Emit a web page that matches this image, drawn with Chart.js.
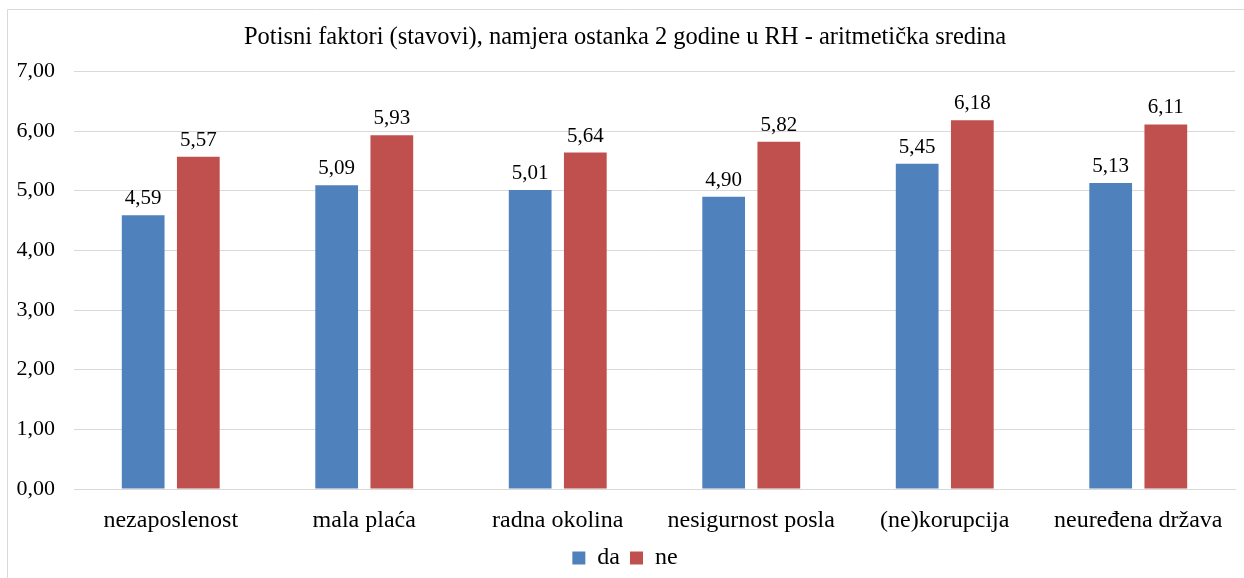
<!DOCTYPE html>
<html>
<head>
<meta charset="utf-8">
<script src="https://cdn.jsdelivr.net/npm/chart.js@4/dist/chart.umd.min.js"></script>
<style>
html,body{margin:0;padding:0;background:#fff;}
#wrap{width:1244px;height:578px;position:relative;}
</style>
</head>
<body>
<div id="wrap"><canvas id="c" width="1244" height="578"></canvas></div>
<script>
const categories = ["nezaposlenost", "mala plaća", "radna okolina", "nesigurnost posla", "(ne)korupcija", "neuređena država"];
const seriesDa = [4.59, 5.09, 5.01, 4.90, 5.45, 5.13];
const seriesNe = [5.57, 5.93, 5.64, 5.82, 6.18, 6.11];
const yTicks = [0, 1, 2, 3, 4, 5, 6, 7];
const titleText = "Potisni faktori (stavovi), namjera ostanka 2 godine u RH - aritmetička sredina";

const fmt = v => v.toFixed(2).replace('.', ',');
const FONT = "'Liberation Serif', 'Times New Roman', serif";

const borderPlugin = {
  id: 'outerBorder',
  beforeDraw(chart) {
    const ctx = chart.ctx;
    ctx.save();
    ctx.fillStyle = '#fff';
    ctx.fillRect(0, 0, chart.width, chart.height);
    ctx.strokeStyle = '#d9d9d9';
    ctx.lineWidth = 1;
    ctx.beginPath();
    ctx.moveTo(7.5, chart.height);
    ctx.lineTo(7.5, 9.5);
    ctx.lineTo(chart.width, 9.5);
    ctx.stroke();
    ctx.restore();
  }
};

const labelPlugin = {
  id: 'valueLabels',
  afterDatasetsDraw(chart) {
    const ctx = chart.ctx;
    ctx.save();
    ctx.font = "21px " + FONT;
    ctx.fillStyle = '#000';
    ctx.textAlign = 'center';
    ctx.textBaseline = 'alphabetic';
    chart.data.datasets.forEach((ds, i) => {
      const meta = chart.getDatasetMeta(i);
      meta.data.forEach((el, j) => {
        ctx.fillText(fmt(ds.data[j]), el.x, el.y - 11);
      });
    });
    ctx.restore();
  }
};

new Chart(document.getElementById('c'), {
  type: 'bar',
  data: {
    labels: categories,
    datasets: [
      { label: 'da', data: seriesDa, backgroundColor: '#4F81BD', borderWidth: 0 },
      { label: 'ne', data: seriesNe, backgroundColor: '#C0504D', borderWidth: 0 }
    ]
  },
  options: {
    responsive: false,
    animation: false,
    devicePixelRatio: 1,
    layout: { padding: { left: 15, right: 9, top: 9, bottom: -2 } },
    datasets: { bar: { categoryPercentage: 0.57, barPercentage: 0.775 } },
    plugins: {
      title: {
        display: true, text: titleText, color: '#000',
        font: { family: FONT, size: 24.5, weight: 'normal' },
        padding: { top: 14, bottom: 19 }
      },
      legend: {
        display: true, position: 'bottom',
        labels: { color: '#000', boxWidth: 13, boxHeight: 13, padding: 10,
          font: { family: FONT, size: 24 } }
      },
      tooltip: { enabled: false }
    },
    scales: {
      x: {
        grid: { display: false, drawTicks: false },
        border: { display: true, color: '#d9d9d9' },
        ticks: { color: '#000', font: { family: FONT, size: 24 }, padding: 17, maxRotation: 0 },
        afterFit: s => { s.height = 47; }
      },
      y: {
        min: 0, max: 7,
        afterBuildTicks: axis => { axis.ticks = yTicks.map(v => ({ value: v })); },
        grid: { color: '#d9d9d9', drawTicks: false },
        border: { display: false },
        ticks: { color: '#000', font: { family: FONT, size: 22 }, padding: 19,
          callback: v => fmt(v) },
        afterFit: s => { s.width = 59; }
      }
    }
  },
  plugins: [borderPlugin, labelPlugin]
});
</script>
</body>
</html>
